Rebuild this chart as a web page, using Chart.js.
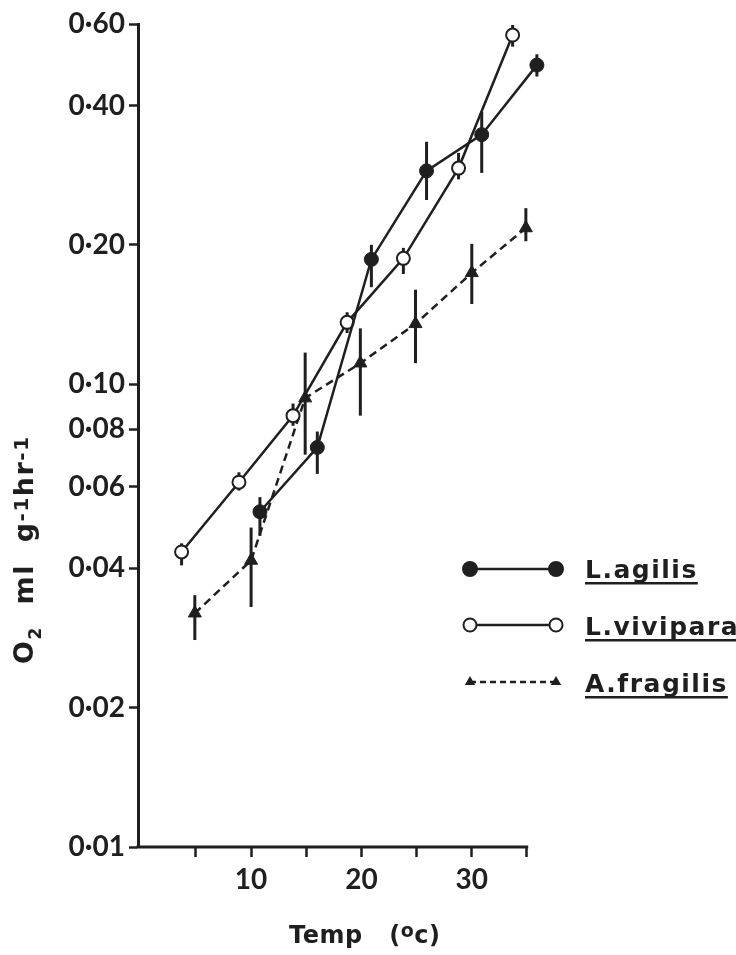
<!DOCTYPE html>
<html>
<head>
<meta charset="utf-8">
<title>Oxygen consumption and temperature</title>
<script src="https://cdn.jsdelivr.net/npm/chart.js@4.4.1/dist/chart.umd.min.js"></script>
<style>
  html, body { margin: 0; padding: 0; background: #ffffff; }
  #wrap { width: 736px; height: 955px; position: relative; }
</style>
</head>
<body>
<div id="wrap"><canvas id="chart" width="736" height="955"></canvas></div>
<script>
// Temperature (°C) and O2 uptake (ml g-1 hr-1), means with range bars
const agilisTemp = [10.8, 16.0, 20.9, 25.9, 30.9, 35.9];
const agilisO2   = [0.053, 0.073, 0.186, 0.289, 0.346, 0.489];
const agilisLow  = [0.047, 0.064, 0.162, 0.250, 0.286, 0.462];
const agilisHigh = [0.057, 0.079, 0.200, 0.334, 0.388, 0.516];

const viviparaTemp = [3.7, 8.9, 13.8, 18.7, 23.8, 28.8, 33.7];
const viviparaO2   = [0.0434, 0.0614, 0.0855, 0.136, 0.187, 0.293, 0.568];
const viviparaLow  = [0.0406, 0.0589, 0.0813, 0.129, 0.173, 0.277, 0.536];
const viviparaHigh = [0.0453, 0.0645, 0.0908, 0.143, 0.197, 0.316, 0.597];

const fragilisTemp = [4.9, 10.0, 14.9, 19.9, 24.9, 30.0, 34.9];
const fragilisO2   = [0.0320, 0.0416, 0.0933, 0.111, 0.135, 0.174, 0.2175];
const fragilisLow  = [0.0280, 0.0330, 0.0704, 0.0855, 0.111, 0.149, 0.2036];
const fragilisHigh = [0.0350, 0.0490, 0.117, 0.132, 0.160, 0.201, 0.240];

const seriesNames = ['L.agilis', 'L.vivipara', 'A.fragilis'];

const xTickValues = [5, 10, 15, 20, 25, 30, 35];
const xTickLabels = ['', '10', '', '20', '', '30', ''];
const xAxisEnd = 35;
const yTickValues = [0.01, 0.02, 0.04, 0.06, 0.08, 0.10, 0.20, 0.40, 0.60];
const yTickLabels = ['0·01', '0·02', '0·04', '0·06', '0·08', '0·10', '0·20', '0·40', '0·60'];

const INK = '#1f1f1f';
const TICK_FONT = 'Lato';
const TEXT_FONT = '"DejaVu Sans"';

const toPoints = (xs, ys) => xs.map((t, i) => ({ x: t, y: ys[i] }));

const rangeSets = [
  { temp: agilisTemp, low: agilisLow, high: agilisHigh },
  { temp: viviparaTemp, low: viviparaLow, high: viviparaHigh },
  { temp: fragilisTemp, low: fragilisLow, high: fragilisHigh }
];

// x axis line (stops at 35 °C) and vertical range bars behind the markers
const rangeBars = {
  id: 'rangeBars',
  beforeDatasetsDraw(chart) {
    const { ctx, scales: { x, y } } = chart;
    ctx.save();
    ctx.strokeStyle = INK;
    ctx.lineCap = 'butt';

    ctx.lineWidth = 3;
    const by = y.getPixelForValue(yTickValues[0]);
    ctx.beginPath();
    ctx.moveTo(x.left - 1.5, by);
    ctx.lineTo(x.getPixelForValue(xAxisEnd) + 1.25, by);
    ctx.stroke();

    rangeSets.forEach(s => {
      s.temp.forEach((t, i) => {
        const px = x.getPixelForValue(t);
        ctx.beginPath();
        ctx.moveTo(px, y.getPixelForValue(s.high[i]));
        ctx.lineTo(px, y.getPixelForValue(s.low[i]));
        ctx.stroke();
      });
    });
    ctx.restore();
  }
};

function drawMarker(ctx, kind, cx, cy, r) {
  ctx.beginPath();
  if (kind === 'triangle') {
    let a = 0;
    ctx.moveTo(cx + Math.sin(a) * r, cy - Math.cos(a) * r);
    a += 2 * Math.PI / 3;
    ctx.lineTo(cx + Math.sin(a) * r, cy - Math.cos(a) * r);
    a += 2 * Math.PI / 3;
    ctx.lineTo(cx + Math.sin(a) * r, cy - Math.cos(a) * r);
    ctx.closePath();
    ctx.fillStyle = INK;
    ctx.fill();
  } else {
    ctx.arc(cx, cy, r, 0, Math.PI * 2);
    ctx.fillStyle = kind === 'open' ? '#ffffff' : INK;
    ctx.fill();
    ctx.lineWidth = 2;
    ctx.strokeStyle = INK;
    ctx.stroke();
  }
}

// draw text runs one after another; each run: [text, size, shift]
function drawRuns(ctx, runs, x0, y0, spacing) {
  let x = x0;
  runs.forEach(([txt, size, shift]) => {
    ctx.font = 'bold ' + size + 'px ' + TEXT_FONT;
    ctx.letterSpacing = spacing + 'px';
    ctx.fillText(txt, x, y0 + shift);
    x += ctx.measureText(txt).width;
  });
  return x;
}

// axis titles and key
const annotations = {
  id: 'annotations',
  afterDraw(chart) {
    const ctx = chart.ctx;
    ctx.save();
    ctx.fillStyle = INK;
    ctx.textBaseline = 'alphabetic';
    ctx.textAlign = 'left';

    // x-axis title
    drawRuns(ctx, [['Temp', 24, 0], ['   (', 24, 0], ['o', 19, -6], ['c)', 24, 0]], 289, 943, 0.5);

    // y-axis title, rotated
    ctx.save();
    ctx.translate(33, 664);
    ctx.rotate(-Math.PI / 2);
    drawRuns(ctx, [['O', 27, 0], ['2', 17, 8], ['  ml  g', 27, 0], ['-1', 20, -5], ['hr', 27, 0], ['-1', 20, -5]], 0, 0, 1.5);
    ctx.restore();

    // key
    const rows = [
      { y: 569, base: 578, kind: 'filled', r: 7, dash: [] },
      { y: 625, base: 635, kind: 'open', r: 6.5, dash: [] },
      { y: 682, base: 692, kind: 'triangle', r: 6, dash: [6, 4] }
    ];
    rows.forEach((row, i) => {
      ctx.save();
      ctx.strokeStyle = INK;
      ctx.lineWidth = 2.5;
      ctx.setLineDash(row.dash);
      ctx.beginPath();
      ctx.moveTo(470, row.y);
      ctx.lineTo(556, row.y);
      ctx.stroke();
      ctx.setLineDash([]);
      drawMarker(ctx, row.kind, 470, row.y, row.r);
      drawMarker(ctx, row.kind, 556, row.y, row.r);
      ctx.restore();

      ctx.font = 'bold 25px ' + TEXT_FONT;
      ctx.letterSpacing = '1.5px';
      ctx.fillStyle = INK;
      ctx.fillText(seriesNames[i], 585, row.base);
      const w = ctx.measureText(seriesNames[i]).width;
      ctx.fillRect(585, row.base + 4, w, 2.5);
    });
    ctx.restore();
  }
};

new Chart(document.getElementById('chart'), {
  type: 'line',
  data: {
    datasets: [
      {
        label: seriesNames[0],
        data: toPoints(agilisTemp, agilisO2),
        borderColor: INK,
        borderWidth: 2.5,
        pointStyle: 'circle',
        pointRadius: 7,
        pointBackgroundColor: INK,
        pointBorderColor: INK,
        pointBorderWidth: 1,
        tension: 0,
        clip: false
      },
      {
        label: seriesNames[1],
        data: toPoints(viviparaTemp, viviparaO2),
        borderColor: INK,
        borderWidth: 2.5,
        pointStyle: 'circle',
        pointRadius: 6.5,
        pointBackgroundColor: '#ffffff',
        pointBorderColor: INK,
        pointBorderWidth: 2,
        tension: 0,
        clip: false
      },
      {
        label: seriesNames[2],
        data: toPoints(fragilisTemp, fragilisO2),
        borderColor: INK,
        borderWidth: 2.5,
        borderDash: [8, 5],
        pointStyle: 'triangle',
        pointRadius: 7.5,
        pointBackgroundColor: INK,
        pointBorderColor: INK,
        pointBorderWidth: 1,
        tension: 0,
        clip: false
      }
    ]
  },
  options: {
    responsive: false,
    animation: false,
    events: [],
    layout: { padding: { top: 24, right: 198, bottom: 0, left: 0 } },
    plugins: { legend: { display: false }, tooltip: { enabled: false } },
    scales: {
      x: {
        type: 'linear',
        min: -0.25,
        max: 36,
        afterBuildTicks: scale => { scale.ticks = xTickValues.map(v => ({ value: v })); },
        afterFit: scale => { scale.height = 108; },
        border: { display: false },
        grid: { display: true, drawOnChartArea: false, drawTicks: true, tickLength: 10, tickWidth: 2.5, tickColor: INK, color: INK },
        ticks: {
          autoSkip: false,
          maxRotation: 0,
          padding: 6,
          color: INK,
          font: { family: TICK_FONT, weight: 'bold', size: 28 },
          callback: value => xTickLabels[xTickValues.indexOf(value)] ?? ''
        }
      },
      y: {
        type: 'logarithmic',
        min: 0.01,
        max: 0.6,
        afterBuildTicks: scale => { scale.ticks = yTickValues.map(v => ({ value: v })); },
        afterFit: scale => { scale.width = 138; },
        border: { display: true, color: INK, width: 3 },
        grid: { display: true, drawOnChartArea: false, drawTicks: true, tickLength: 9, tickWidth: 2.5, tickColor: INK, color: INK },
        ticks: {
          autoSkip: false,
          padding: 4,
          color: INK,
          font: { family: TICK_FONT, weight: 'bold', size: 28 },
          callback: value => yTickLabels[yTickValues.indexOf(value)] ?? ''
        }
      }
    }
  },
  plugins: [rangeBars, annotations]
});
</script>
</body>
</html>
